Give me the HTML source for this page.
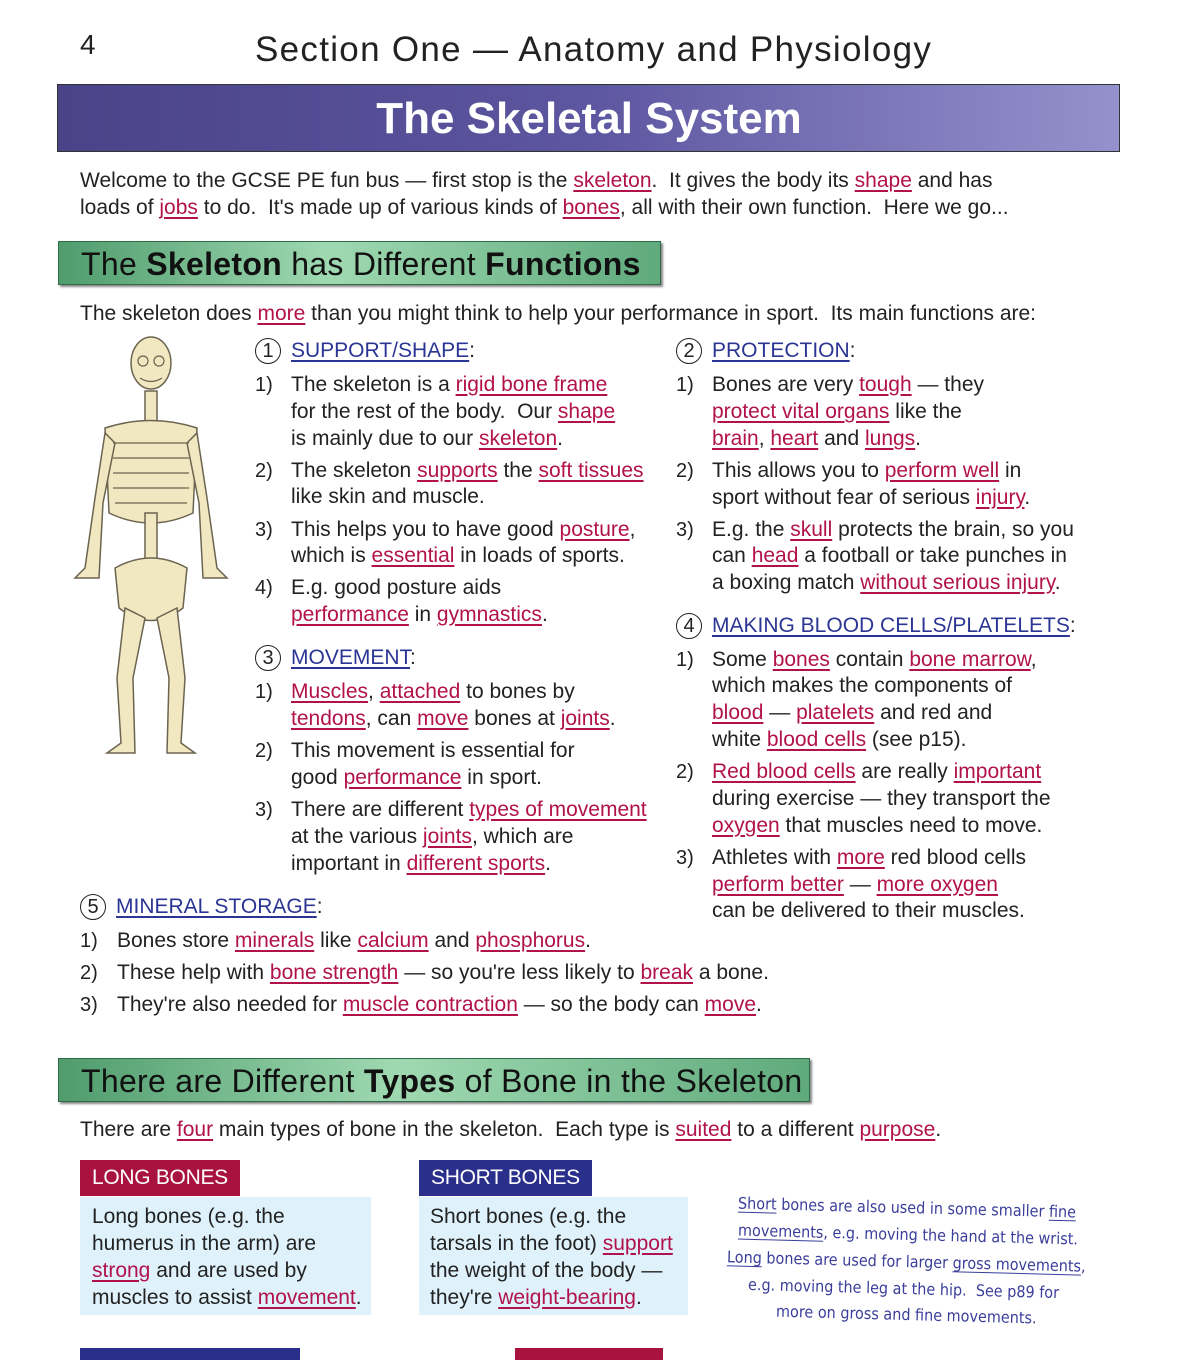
<!DOCTYPE html>
<html><head><meta charset="utf-8"><style>
body{margin:0;width:1200px;height:1357px;background:#fff;position:relative;overflow:hidden;font-family:"Liberation Sans",sans-serif;color:#222}
.l{position:absolute;white-space:nowrap;font-size:21px;letter-spacing:0;line-height:26px}
u{text-decoration:underline;text-underline-offset:3px}
.r{color:#b2124b}
.b{color:#2b3594}
.c{display:inline-block;width:24px;height:24px;border:1.5px solid #222;border-radius:50%;text-align:center;line-height:24px;font-size:20px;margin-right:10px;color:#222;letter-spacing:0}
.n{position:absolute;white-space:nowrap;font-size:20px;line-height:26px}
.gh{position:absolute;left:58px;height:44px;background:linear-gradient(90deg,#4f9c6d,#9fd9b1 45%,#5faa7c);border:1px solid #2f6b47;box-shadow:2px 2px 2px #888;font-size:32px;line-height:44px;padding-left:22px;box-sizing:border-box;color:#111;letter-spacing:0.3px}
.box{position:absolute;background:#dff2fb}
.tag{position:absolute;color:#fff;font-size:21px;line-height:36px;padding:0 12px;letter-spacing:-0.3px}
.hw{position:absolute;white-space:nowrap;color:#3a3e9a;font-family:"DejaVu Sans Condensed","Liberation Sans Narrow",sans-serif;font-size:16px;transform:rotate(1.5deg)}
</style></head><body>
<div class="l" style="left:80px;top:32px;font-size:28px">4</div>
<div class="l" style="left:255px;top:30px;font-size:35px;line-height:40px;letter-spacing:1.3px">Section One — Anatomy and Physiology</div>
<div style="position:absolute;left:57px;top:84px;width:1063px;height:68px;background:linear-gradient(90deg,#4a4388,#5d56a0 50%,#9591cd);border:1px solid #333;box-sizing:border-box"></div>
<div class="l" style="left:0;width:1178px;text-align:center;top:94px;font-size:44px;line-height:50px;color:#fff;font-weight:bold;letter-spacing:0">The Skeletal System</div>

<div class="l" style="left:80px;top:168px">Welcome to the GCSE PE fun bus — first stop is the <u class="r">skeleton</u>.&nbsp; It gives the body its <u class="r">shape</u> and has</div>
<div class="l" style="left:80px;top:195px">loads of <u class="r">jobs</u> to do.&nbsp; It's made up of various kinds of <u class="r">bones</u>, all with their own function.&nbsp; Here we go...</div>

<div class="gh" style="top:241px;width:603px">The <b>Skeleton</b> has Different <b>Functions</b></div>
<div class="l" style="left:80px;top:301px">The skeleton does <u class="r">more</u> than you might think to help your performance in sport.&nbsp; Its main functions are:</div>

<!-- skeleton -->
<svg style="position:absolute;left:55px;top:333px" width="195" height="430" viewBox="0 0 195 430">
<g fill="#f1e7c0" stroke="#6b6450" stroke-width="1.5">
<ellipse cx="96" cy="30" rx="20" ry="26"/>
<rect x="90" y="58" width="12" height="32"/>
<path d="M50 95 Q96 80 142 95 L138 180 Q96 200 54 180 Z"/>
<rect x="90" y="180" width="12" height="55"/>
<path d="M60 235 Q96 215 132 235 L128 275 Q96 300 64 275 Z"/>
<path d="M50 100 L40 165 L30 235 L20 245 L44 245 L48 170 L60 110Z"/>
<path d="M142 100 L152 165 L162 235 L172 245 L148 245 L144 170 L132 110Z"/>
<path d="M70 275 L62 345 L66 410 L52 420 L80 420 L78 345 L90 285Z"/>
<path d="M122 275 L130 345 L126 410 L140 420 L112 420 L114 345 L102 285Z"/>
</g>
<g stroke="#6b6450" stroke-width="1.2" fill="none">
<path d="M58 110h76M58 125h76M58 140h76M58 155h76M60 170h72"/>
<circle cx="88" cy="28" r="5"/><circle cx="104" cy="28" r="5"/>
<path d="M85 45 Q96 52 107 45"/>
</g>
</svg>

<!-- left column -->
<div class="l" style="left:255px;top:338px"><span class="c">1</span><u class="b">SUPPORT/SHAPE</u>:</div>
<div class="n" style="left:255px;top:372px">1)</div><div class="l" style="left:291px;top:372px">The skeleton is a <u class="r">rigid bone frame</u></div>
<div class="l" style="left:291px;top:399px">for the rest of the body.&nbsp; Our <u class="r">shape</u></div>
<div class="l" style="left:291px;top:426px">is mainly due to our <u class="r">skeleton</u>.</div>
<div class="n" style="left:255px;top:458px">2)</div><div class="l" style="left:291px;top:458px">The skeleton <u class="r">supports</u> the <u class="r">soft tissues</u></div>
<div class="l" style="left:291px;top:484px">like skin and muscle.</div>
<div class="n" style="left:255px;top:517px">3)</div><div class="l" style="left:291px;top:517px">This helps you to have good <u class="r">posture</u>,</div>
<div class="l" style="left:291px;top:543px">which is <u class="r">essential</u> in loads of sports.</div>
<div class="n" style="left:255px;top:575px">4)</div><div class="l" style="left:291px;top:575px">E.g. good posture aids</div>
<div class="l" style="left:291px;top:602px"><u class="r">performance</u> in <u class="r">gymnastics</u>.</div>

<div class="l" style="left:255px;top:645px"><span class="c">3</span><u class="b">MOVEMENT</u>:</div>
<div class="n" style="left:255px;top:679px">1)</div><div class="l" style="left:291px;top:679px"><u class="r">Muscles</u>, <u class="r">attached</u> to bones by</div>
<div class="l" style="left:291px;top:706px"><u class="r">tendons</u>, can <u class="r">move</u> bones at <u class="r">joints</u>.</div>
<div class="n" style="left:255px;top:738px">2)</div><div class="l" style="left:291px;top:738px">This movement is essential for</div>
<div class="l" style="left:291px;top:765px">good <u class="r">performance</u> in sport.</div>
<div class="n" style="left:255px;top:797px">3)</div><div class="l" style="left:291px;top:797px">There are different <u class="r">types of movement</u></div>
<div class="l" style="left:291px;top:824px">at the various <u class="r">joints</u>, which are</div>
<div class="l" style="left:291px;top:851px">important in <u class="r">different sports</u>.</div>

<!-- right column -->
<div class="l" style="left:676px;top:338px"><span class="c">2</span><u class="b">PROTECTION</u>:</div>
<div class="n" style="left:676px;top:372px">1)</div><div class="l" style="left:712px;top:372px">Bones are very <u class="r">tough</u> — they</div>
<div class="l" style="left:712px;top:399px"><u class="r">protect vital organs</u> like the</div>
<div class="l" style="left:712px;top:426px"><u class="r">brain</u>, <u class="r">heart</u> and <u class="r">lungs</u>.</div>
<div class="n" style="left:676px;top:458px">2)</div><div class="l" style="left:712px;top:458px">This allows you to <u class="r">perform well</u> in</div>
<div class="l" style="left:712px;top:485px">sport without fear of serious <u class="r">injury</u>.</div>
<div class="n" style="left:676px;top:517px">3)</div><div class="l" style="left:712px;top:517px">E.g. the <u class="r">skull</u> protects the brain, so you</div>
<div class="l" style="left:712px;top:543px">can <u class="r">head</u> a football or take punches in</div>
<div class="l" style="left:712px;top:570px">a boxing match <u class="r">without serious injury</u>.</div>

<div class="l" style="left:676px;top:613px"><span class="c">4</span><u class="b">MAKING BLOOD CELLS/PLATELETS</u>:</div>
<div class="n" style="left:676px;top:647px">1)</div><div class="l" style="left:712px;top:647px">Some <u class="r">bones</u> contain <u class="r">bone marrow</u>,</div>
<div class="l" style="left:712px;top:673px">which makes the components of</div>
<div class="l" style="left:712px;top:700px"><u class="r">blood</u> — <u class="r">platelets</u> and red and</div>
<div class="l" style="left:712px;top:727px">white <u class="r">blood cells</u> (see p15).</div>
<div class="n" style="left:676px;top:759px">2)</div><div class="l" style="left:712px;top:759px"><u class="r">Red blood cells</u> are really <u class="r">important</u></div>
<div class="l" style="left:712px;top:786px">during exercise — they transport the</div>
<div class="l" style="left:712px;top:813px"><u class="r">oxygen</u> that muscles need to move.</div>
<div class="n" style="left:676px;top:845px">3)</div><div class="l" style="left:712px;top:845px">Athletes with <u class="r">more</u> red blood cells</div>
<div class="l" style="left:712px;top:872px"><u class="r">perform better</u> — <u class="r">more oxygen</u></div>
<div class="l" style="left:712px;top:898px">can be delivered to their muscles.</div>

<!-- mineral -->
<div class="l" style="left:80px;top:894px"><span class="c">5</span><u class="b">MINERAL STORAGE</u>:</div>
<div class="n" style="left:80px;top:928px">1)</div><div class="l" style="left:117px;top:928px">Bones store <u class="r">minerals</u> like <u class="r">calcium</u> and <u class="r">phosphorus</u>.</div>
<div class="n" style="left:80px;top:960px">2)</div><div class="l" style="left:117px;top:960px">These help with <u class="r">bone strength</u> — so you're less likely to <u class="r">break</u> a bone.</div>
<div class="n" style="left:80px;top:992px">3)</div><div class="l" style="left:117px;top:992px">They're also needed for <u class="r">muscle contraction</u> — so the body can <u class="r">move</u>.</div>

<div class="gh" style="top:1058px;width:752px">There are Different <b>Types</b> of Bone in the Skeleton</div>
<div class="l" style="left:80px;top:1117px">There are <u class="r">four</u> main types of bone in the skeleton.&nbsp; Each type is <u class="r">suited</u> to a different <u class="r">purpose</u>.</div>

<div class="tag" style="left:80px;top:1160px;background:#a8123f">LONG BONES</div>
<div class="box" style="left:80px;top:1197px;width:291px;height:118px"></div>
<div class="l" style="left:92px;top:1204px">Long bones (e.g. the</div>
<div class="l" style="left:92px;top:1231px">humerus in the arm) are</div>
<div class="l" style="left:92px;top:1258px"><u class="r">strong</u> and are used by</div>
<div class="l" style="left:92px;top:1285px">muscles to assist <u class="r">movement</u>.</div>

<div class="tag" style="left:419px;top:1160px;background:#2a2f8c">SHORT BONES</div>
<div class="box" style="left:419px;top:1197px;width:269px;height:118px"></div>
<div class="l" style="left:430px;top:1204px">Short bones (e.g. the</div>
<div class="l" style="left:430px;top:1231px">tarsals in the foot) <u class="r">support</u></div>
<div class="l" style="left:430px;top:1258px">the weight of the body —</div>
<div class="l" style="left:430px;top:1285px">they're <u class="r">weight-bearing</u>.</div>

<div class="hw" style="left:738px;top:1198px"><u>Short</u> bones are also used in some smaller <u>fine</u></div>
<div class="hw" style="left:738px;top:1225px"><u>movements</u>, e.g. moving the hand at the wrist.</div>
<div class="hw" style="left:727px;top:1252px"><u>Long</u> bones are used for larger <u>gross movements</u>,</div>
<div class="hw" style="left:748px;top:1279px">e.g. moving the leg at the hip.&nbsp; See p89 for</div>
<div class="hw" style="left:776px;top:1305px">more on gross and fine movements.</div>

<div style="position:absolute;left:80px;top:1348px;width:220px;height:12px;background:#2a2f8c"></div>
<div style="position:absolute;left:515px;top:1348px;width:148px;height:12px;background:#a8123f"></div>
</body></html>
